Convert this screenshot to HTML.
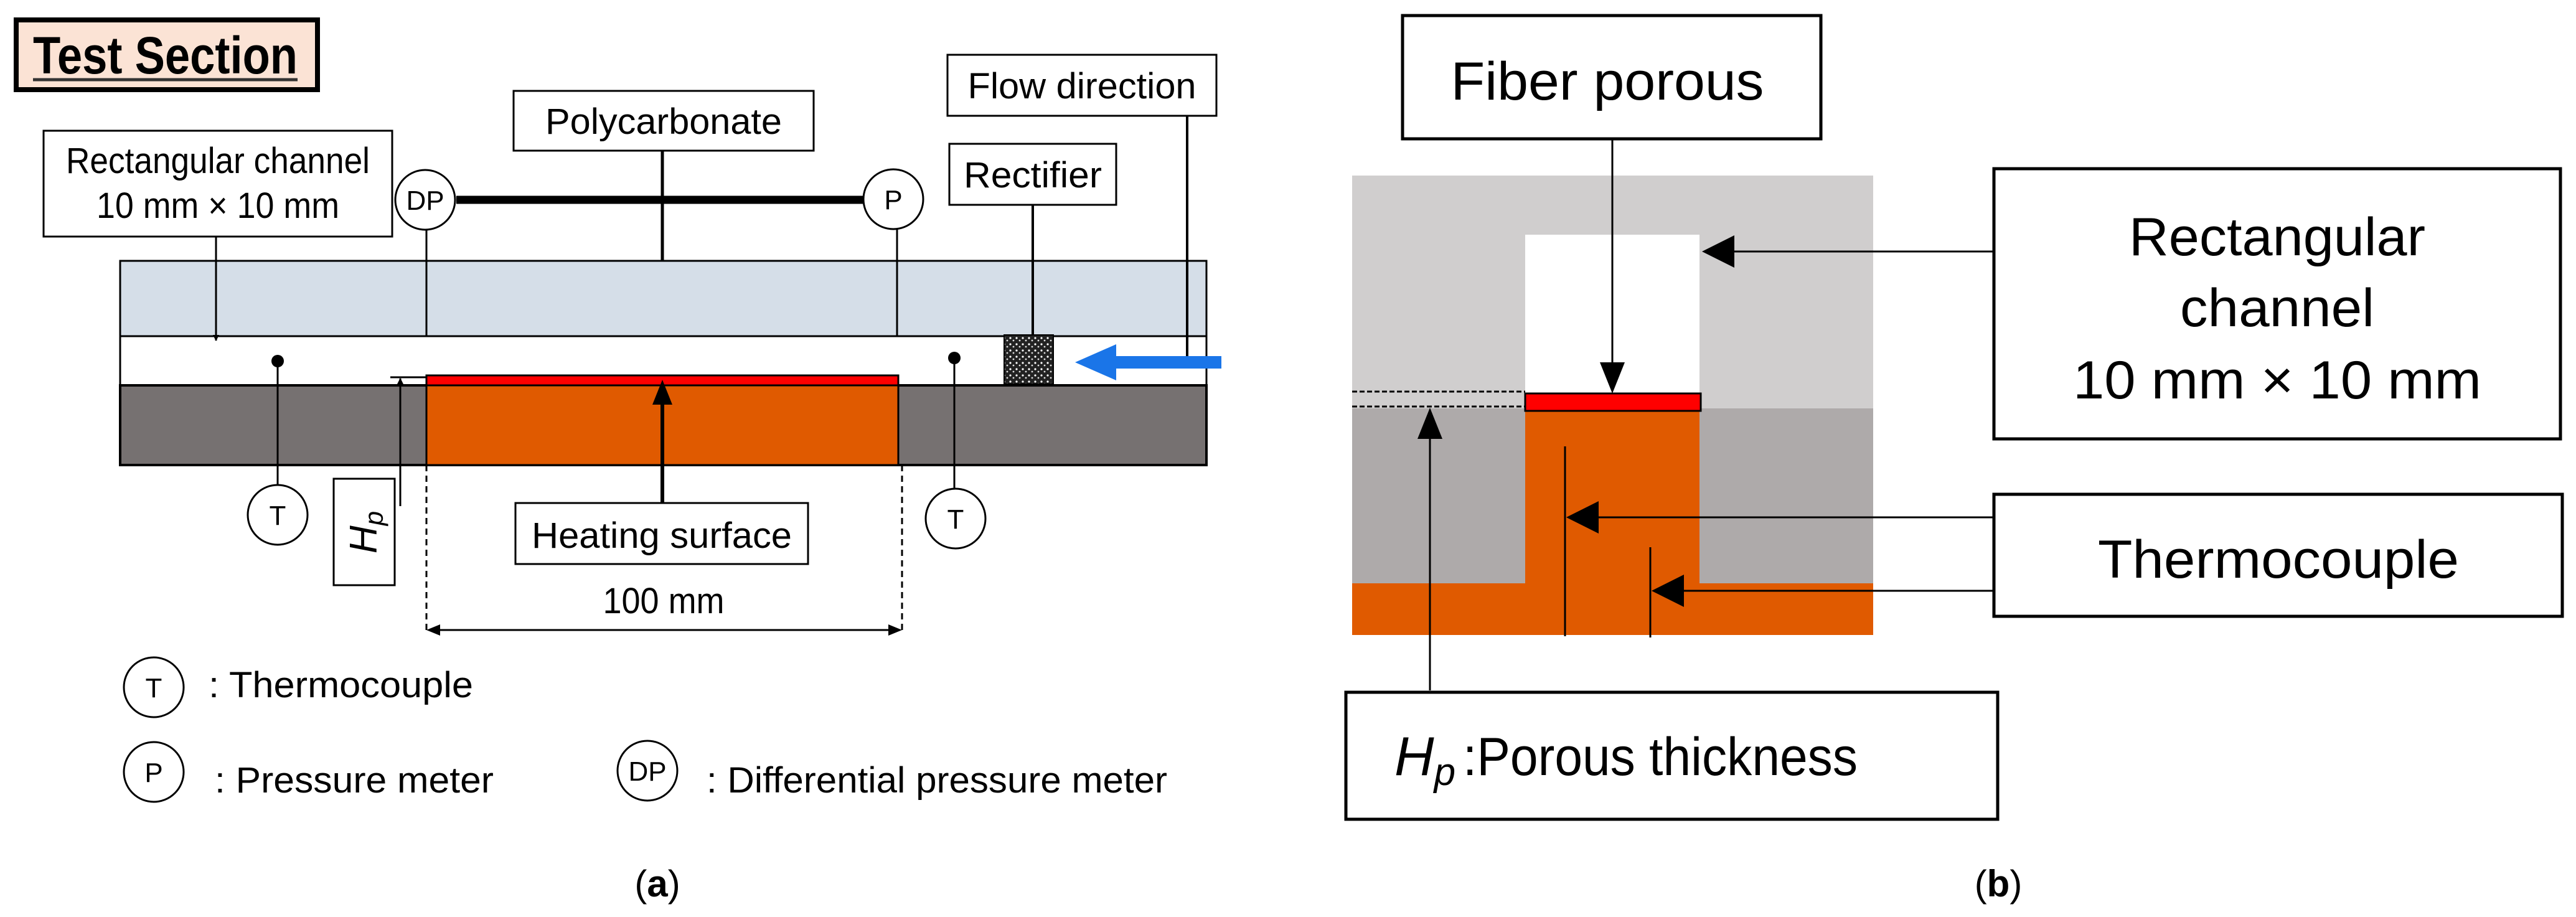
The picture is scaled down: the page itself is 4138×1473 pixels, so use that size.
<!DOCTYPE html>
<html><head><meta charset="utf-8"><style>html,body{margin:0;padding:0;background:#fff}svg{display:block}text{font-family:"Liberation Sans",sans-serif}</style></head><body>
<svg width="4138" height="1473" viewBox="0 0 4138 1473" xmlns="http://www.w3.org/2000/svg">
<defs>
<marker id="ah" markerWidth="10" markerHeight="10" refX="9" refY="5" orient="auto" markerUnits="userSpaceOnUse" viewBox="0 0 10 10"><path d="M0,0 L10,5 L0,10z" fill="#000"/></marker>
<pattern id="dots" width="10" height="10" patternUnits="userSpaceOnUse"><rect width="10" height="10" fill="#222"/><circle cx="3" cy="3" r="1.6" fill="#fff"/><circle cx="8" cy="7" r="1.4" fill="#ddd"/></pattern>
</defs>
<!-- Panel a -->
<rect x="26" y="32" width="484" height="112" fill="#fbe3d5" stroke="#000" stroke-width="8"/>
<text x="53" y="118" font-size="84" font-weight="bold" textLength="425" lengthAdjust="spacingAndGlyphs">Test Section</text>
<line x1="53" y1="128" x2="478" y2="128" stroke="#333" stroke-width="5"/>

<rect x="193" y="419" width="1745" height="121" fill="#d5dee8" stroke="#000" stroke-width="3"/>
<rect x="193" y="540" width="1745" height="79" fill="#fff" stroke="#000" stroke-width="3"/>
<rect x="193" y="619" width="1745" height="128" fill="#767171" stroke="#000" stroke-width="4"/>
<rect x="685" y="619" width="758" height="128" fill="#e05a00" stroke="#000" stroke-width="3"/>
<rect x="685" y="603" width="758" height="16" fill="#ff0000" stroke="#000" stroke-width="3"/>
<rect x="1613" y="538" width="79" height="79" fill="url(#dots)" stroke="#000" stroke-width="2"/>

<g stroke="#000" fill="#fff" stroke-width="3">
<rect x="70" y="210" width="560" height="170"/>
<rect x="825" y="146" width="482" height="96"/>
<rect x="1522" y="88" width="432" height="98"/>
<rect x="1525" y="231" width="268" height="98"/>
<rect x="828" y="808" width="470" height="98"/>
<rect x="536" y="769" width="98" height="171"/>
</g>
<g font-size="58" text-anchor="middle">
<text x="350" y="278" textLength="488" lengthAdjust="spacingAndGlyphs">Rectangular channel</text>
<text x="350" y="350" textLength="390" lengthAdjust="spacingAndGlyphs">10 mm × 10 mm</text>
<text x="1066" y="215" textLength="380" lengthAdjust="spacingAndGlyphs">Polycarbonate</text>
<text x="1738" y="158" textLength="367" lengthAdjust="spacingAndGlyphs">Flow direction</text>
<text x="1659" y="301" textLength="222" lengthAdjust="spacingAndGlyphs">Rectifier</text>
<text x="1063" y="880" textLength="418" lengthAdjust="spacingAndGlyphs">Heating surface</text>
<text x="1066" y="985" textLength="195" lengthAdjust="spacingAndGlyphs">100 mm</text>
</g>
<text transform="translate(605,855) rotate(-90)" font-family="Liberation Serif,serif" font-style="italic" font-size="62" text-anchor="middle">H<tspan font-size="42" dy="10">p</tspan></text>

<g stroke="#000" stroke-width="3" fill="none">
<line x1="733" y1="321" x2="1387" y2="321" stroke-width="13"/>
<line x1="1064" y1="242" x2="1064" y2="419" stroke-width="5"/>
<line x1="347" y1="380" x2="347" y2="547" marker-end="url(#ah)"/>
<line x1="685" y1="370" x2="685" y2="540"/>
<line x1="1441" y1="368" x2="1441" y2="540"/>
<line x1="1659" y1="329" x2="1659" y2="538" stroke-width="4"/>
<line x1="1907" y1="186" x2="1907" y2="582" stroke-width="4"/>
<line x1="446" y1="580" x2="446" y2="779"/>
<line x1="1533" y1="575" x2="1533" y2="785"/>
<line x1="643" y1="813" x2="643" y2="608" marker-end="url(#ah)"/>
<line x1="627" y1="606" x2="685" y2="606"/>
<line x1="1064" y1="808" x2="1064" y2="627" stroke-width="6"/>
<line x1="685" y1="747" x2="685" y2="1018" stroke-dasharray="10,7"/>
<line x1="1449" y1="747" x2="1449" y2="1018" stroke-dasharray="10,7"/>
<line x1="700" y1="1012" x2="1434" y2="1012"/>
</g>
<path d="M1064,610 l-16,40 h32z" fill="#000"/>
<path d="M685,1012 l22,-9 v18z M1449,1012 l-22,-9 v18z" fill="#000"/>
<circle cx="446" cy="580" r="10" fill="#000"/>
<circle cx="1533" cy="575" r="10" fill="#000"/>
<line x1="1775" y1="582" x2="1962" y2="582" stroke="#1a75e8" stroke-width="20"/>
<path d="M1727,582 L1793,553 L1793,611z" fill="#1a75e8"/>

<g stroke="#000" stroke-width="3" fill="#fff">
<circle cx="683" cy="321" r="48"/><circle cx="1435" cy="320" r="48"/>
<circle cx="446" cy="827" r="48"/><circle cx="1535" cy="833" r="48"/>
<circle cx="247" cy="1104" r="48"/><circle cx="247" cy="1240" r="48"/><circle cx="1040" cy="1238" r="48"/>
</g>
<g font-size="44" text-anchor="middle">
<text x="683" y="337">DP</text><text x="1435" y="336">P</text>
<text x="446" y="843">T</text><text x="1535" y="849">T</text>
<text x="247" y="1120">T</text><text x="247" y="1256">P</text><text x="1040" y="1254">DP</text>
</g>
<g font-size="58">
<text x="335" y="1120" textLength="425" lengthAdjust="spacingAndGlyphs">: Thermocouple</text>
<text x="345" y="1273" textLength="448" lengthAdjust="spacingAndGlyphs">: Pressure meter</text>
<text x="1135" y="1273" textLength="740" lengthAdjust="spacingAndGlyphs">: Differential pressure meter</text>
</g>
<text x="1056" y="1440" font-family="Liberation Serif,serif" font-size="60" text-anchor="middle">(<tspan font-weight="bold">a</tspan>)</text>

<!-- Panel b -->
<rect x="2172" y="282" width="837" height="374" fill="#d0cece"/>
<rect x="2172" y="656" width="837" height="281" fill="#aeaaaa"/>
<rect x="2172" y="937" width="837" height="83" fill="#e05a00"/>
<rect x="2450" y="656" width="280" height="281" fill="#e05a00"/>
<rect x="2450" y="377" width="280" height="255" fill="#fff"/>
<rect x="2450" y="632" width="282" height="28" fill="#ff0000" stroke="#000" stroke-width="3"/>
<g stroke="#000" stroke-width="3" fill="none">
<line x1="2172" y1="629" x2="2450" y2="629" stroke-dasharray="8,4"/>
<line x1="2172" y1="653" x2="2450" y2="653" stroke-dasharray="8,4"/>
<line x1="2590" y1="223" x2="2590" y2="590"/>
<line x1="3203" y1="404" x2="2775" y2="404"/>
<line x1="2514" y1="717" x2="2514" y2="1022"/>
<line x1="2651" y1="879" x2="2651" y2="1024"/>
<line x1="3203" y1="831" x2="2555" y2="831"/>
<line x1="3203" y1="949" x2="2692" y2="949"/>
<line x1="2297" y1="1109" x2="2297" y2="700"/>
</g>
<g fill="#000">
<path d="M2590,632 l-20,-50 h40z"/>
<path d="M2734,404 l52,-26 v52z"/>
<path d="M2516,831 l52,-26 v52z"/>
<path d="M2653,949 l52,-26 v52z"/>
<path d="M2297,655 l-20,50 h40z"/>
</g>
<g stroke="#000" stroke-width="5" fill="#fff">
<rect x="2253" y="25" width="672" height="198"/>
<rect x="3203" y="271" width="910" height="434"/>
<rect x="3203" y="794" width="913" height="196"/>
<rect x="2162" y="1112" width="1047" height="204"/>
</g>
<g font-size="86" text-anchor="middle">
<text x="2582" y="160" textLength="503" lengthAdjust="spacingAndGlyphs">Fiber porous</text>
<text x="3658" y="410" textLength="476" lengthAdjust="spacingAndGlyphs">Rectangular</text>
<text x="3658" y="524" textLength="312" lengthAdjust="spacingAndGlyphs">channel</text>
<text x="3658" y="640" textLength="656" lengthAdjust="spacingAndGlyphs">10 mm × 10 mm</text>
<text x="3660" y="928" textLength="580" lengthAdjust="spacingAndGlyphs">Thermocouple</text>
</g>
<text x="2240" y="1245" font-family="Liberation Serif,serif" font-style="italic" font-size="88">H<tspan font-size="62" dy="16">p</tspan></text>
<text x="2350" y="1245" font-size="86" textLength="634" lengthAdjust="spacingAndGlyphs">:Porous thickness</text>
<text x="3210" y="1440" font-family="Liberation Serif,serif" font-size="60" text-anchor="middle">(<tspan font-weight="bold">b</tspan>)</text>
</svg>
</body></html>
